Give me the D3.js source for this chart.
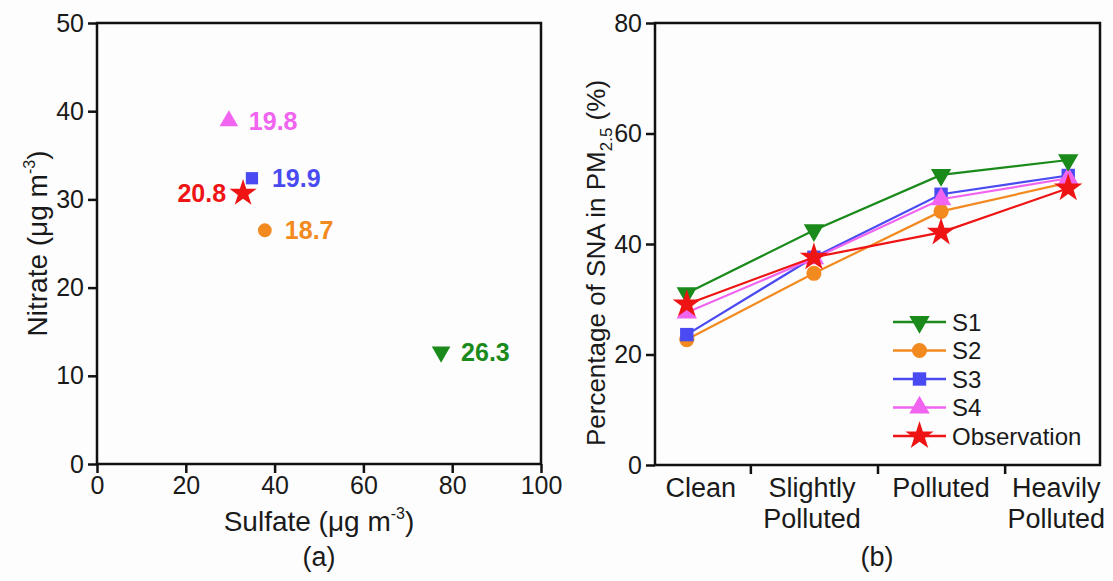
<!DOCTYPE html>
<html>
<head>
<meta charset="utf-8">
<script src="https://d3js.org/d3.v7.min.js"></script>
<style>
  body { margin: 0; background: #fdfdfd; }
  svg { display: block; font-family: "Liberation Sans", Arial, sans-serif; }
</style>
</head>
<body>
<div id="chart"></div>
<script>
// ---- panel (a): scenario points, sulfate vs nitrate, with label value
var scenNames = ["S1", "S2", "S3", "S4", "Observation"];
var sulfate  = [77.5, 37.8, 34.9, 29.7, 32.9];
var nitrate  = [12.7, 26.5, 32.4, 38.9, 30.7];
var pointLbl = ["26.3", "18.7", "19.9", "19.8", "20.8"];

// ---- panel (b): percentage of SNA in PM2.5 by pollution level
var levels = ["Clean", "Slightly Polluted", "Polluted", "Heavily Polluted"];
var snaS1  = [31.1, 42.5, 52.5, 55.2];
var snaS2  = [22.7, 34.7, 45.9, 51.1];
var snaS3  = [23.6, 37.6, 49.0, 52.4];
var snaS4  = [27.6, 37.4, 48.1, 51.9];
var snaObs = [29.1, 37.6, 42.1, 50.1];

var colors  = ["#1a8a1a", "#f28a20", "#4a4af2", "#f064f0", "#ee1414"];
var symbols = [d3.symbolTriangle, d3.symbolCircle, d3.symbolSquare, d3.symbolTriangle, d3.symbolStar];
var flipped = [true, false, false, false, false];

var width = 1113, height = 581;
var svg = d3.select("#chart").append("svg")
  .attr("width", width)
  .attr("height", height);

function styleAxis(g) {
  g.select(".domain").remove();
  g.selectAll(".tick line").attr("stroke", "#111").attr("stroke-width", 2.5);
  g.selectAll(".tick text").attr("fill", "#1a1a1a").style("font-size", "25px");
}

function markerPath(i, size) {
  return d3.symbol().type(symbols[i]).size(size)();
}

// ================= panel (a) =================
var xA = d3.scaleLinear().domain([0, 100]).range([97, 541]);
var yA = d3.scaleLinear().domain([0, 50]).range([464, 23]);

svg.append("g")
  .attr("transform", "translate(0," + yA(0) + ")")
  .call(d3.axisBottom(xA).tickValues([0, 20, 40, 60, 80, 100]).tickSize(9).tickPadding(3))
  .call(styleAxis);

svg.append("g")
  .attr("transform", "translate(" + xA(0) + ",0)")
  .call(d3.axisLeft(yA).tickValues([0, 10, 20, 30, 40, 50]).tickSize(9).tickPadding(4))
  .call(styleAxis);

svg.append("rect")
  .attr("x", xA(0)).attr("y", yA(50))
  .attr("width", xA(100) - xA(0)).attr("height", yA(0) - yA(50))
  .attr("fill", "none").attr("stroke", "#111").attr("stroke-width", 2.5);

var pts = svg.append("g").selectAll("g.pt")
  .data(scenNames.map(function(n, i) { return i; }))
  .enter().append("g")
  .attr("class", "pt")
  .attr("transform", function(i) { return "translate(" + xA(sulfate[i]) + "," + yA(nitrate[i]) + ")"; });

pts.append("path")
  .attr("d", function(i) { return markerPath(i, i == 4 ? 230 : 150); })
  .attr("transform", function(i) { return flipped[i] ? "rotate(180)" : null; })
  .attr("fill", function(i) { return colors[i]; });

pts.append("text")
  .attr("x", function(i) { return i == 4 ? -17 : 20; })
  .attr("dy", "0.36em")
  .attr("text-anchor", function(i) { return i == 4 ? "end" : "start"; })
  .attr("fill", function(i) { return colors[i]; })
  .style("font-size", "25px")
  .style("font-weight", "bold")
  .text(function(i) { return pointLbl[i]; });

// axis titles (a)
var xtA = svg.append("text")
  .attr("x", (xA(0) + xA(100)) / 2).attr("y", 531)
  .attr("text-anchor", "middle")
  .style("font-size", "28px").attr("fill", "#1a1a1a");
xtA.append("tspan").text("Sulfate (\u03bcg m");
xtA.append("tspan").attr("dy", -12).style("font-size", "16px").text("-3");
xtA.append("tspan").attr("dy", 12).text(")");

var ytA = svg.append("text")
  .attr("transform", "translate(47," + (yA(0) + yA(50)) / 2 + ") rotate(-90)")
  .attr("text-anchor", "middle")
  .style("font-size", "28px").attr("fill", "#1a1a1a");
ytA.append("tspan").text("Nitrate (\u03bcg m");
ytA.append("tspan").attr("dy", -12).style("font-size", "16px").text("-3");
ytA.append("tspan").attr("dy", 12).text(")");

svg.append("text")
  .attr("x", (xA(0) + xA(100)) / 2).attr("y", 566)
  .attr("text-anchor", "middle")
  .style("font-size", "27px").attr("fill", "#1a1a1a")
  .text("(a)");

// ================= panel (b) =================
var xB = d3.scaleLinear().domain([0.75, 4.25]).range([655, 1100]);
var yB = d3.scaleLinear().domain([0, 80]).range([465, 23]);

svg.append("g")
  .attr("transform", "translate(0," + yB(0) + ")")
  .call(d3.axisBottom(xB).tickValues([1.5, 2.5, 3.5]).tickSize(9).tickFormat(""))
  .call(styleAxis);

svg.append("g")
  .attr("transform", "translate(" + xB(0.75) + ",0)")
  .call(d3.axisLeft(yB).tickValues([0, 20, 40, 60, 80]).tickSize(9).tickPadding(4))
  .call(styleAxis);

svg.append("rect")
  .attr("x", xB(0.75)).attr("y", yB(80))
  .attr("width", xB(4.25) - xB(0.75)).attr("height", yB(0) - yB(80))
  .attr("fill", "none").attr("stroke", "#111").attr("stroke-width", 2.5);

// category labels (two lines where needed)
var catShift = [14, -2, 0, -12];
levels.forEach(function(lv, j) {
  var words = lv.split(" ");
  var t = svg.append("text")
    .attr("x", xB(j + 1) + catShift[j]).attr("y", 497)
    .attr("text-anchor", "middle")
    .style("font-size", "27px").attr("fill", "#1a1a1a");
  words.forEach(function(w, k) {
    t.append("tspan").attr("x", xB(j + 1) + catShift[j]).attr("dy", k == 0 ? 0 : 31).text(w);
  });
});

var series = [snaS1, snaS2, snaS3, snaS4, snaObs];
var line = d3.line()
  .x(function(d, j) { return xB(j + 1); })
  .y(function(d) { return yB(d); });

var drawOrder = [1, 2, 3, 0, 4];
drawOrder.forEach(function(i) {
  svg.append("path")
    .datum(series[i])
    .attr("d", line)
    .attr("fill", "none")
    .attr("stroke", colors[i])
    .attr("stroke-width", 2.2);
  svg.append("g").selectAll("path")
    .data(series[i])
    .enter().append("path")
    .attr("d", markerPath(i, i == 4 ? 250 : 180))
    .attr("transform", function(d, j) {
      return "translate(" + xB(j + 1) + "," + yB(d) + ")" + (flipped[i] ? " rotate(180)" : "");
    })
    .attr("fill", colors[i]);
});

// legend
var legend = svg.append("g").attr("transform", "translate(893,322)");
scenNames.forEach(function(n, i) {
  var row = legend.append("g").attr("transform", "translate(0," + i * 28.5 + ")");
  row.append("line").attr("x1", 0).attr("x2", 53)
    .attr("stroke", colors[i]).attr("stroke-width", 2.5);
  row.append("path")
    .attr("d", markerPath(i, i == 4 ? 250 : 180))
    .attr("transform", "translate(26.5,0)" + (flipped[i] ? " rotate(180)" : ""))
    .attr("fill", colors[i]);
  row.append("text")
    .attr("x", 59).attr("dy", "0.36em")
    .style("font-size", "24px").attr("fill", "#1a1a1a")
    .text(n);
});

// y title (b)
var ytB = svg.append("text")
  .attr("transform", "translate(605,263) rotate(-90)")
  .attr("text-anchor", "middle")
  .style("font-size", "26px").attr("fill", "#1a1a1a");
ytB.append("tspan").text("Percentage of SNA in PM");
ytB.append("tspan").attr("dy", 7).style("font-size", "17px").text("2.5");
ytB.append("tspan").attr("dy", -7).text(" (%)");

svg.append("text")
  .attr("x", 877).attr("y", 566)
  .attr("text-anchor", "middle")
  .style("font-size", "27px").attr("fill", "#1a1a1a")
  .text("(b)");
</script>
</body>
</html>
